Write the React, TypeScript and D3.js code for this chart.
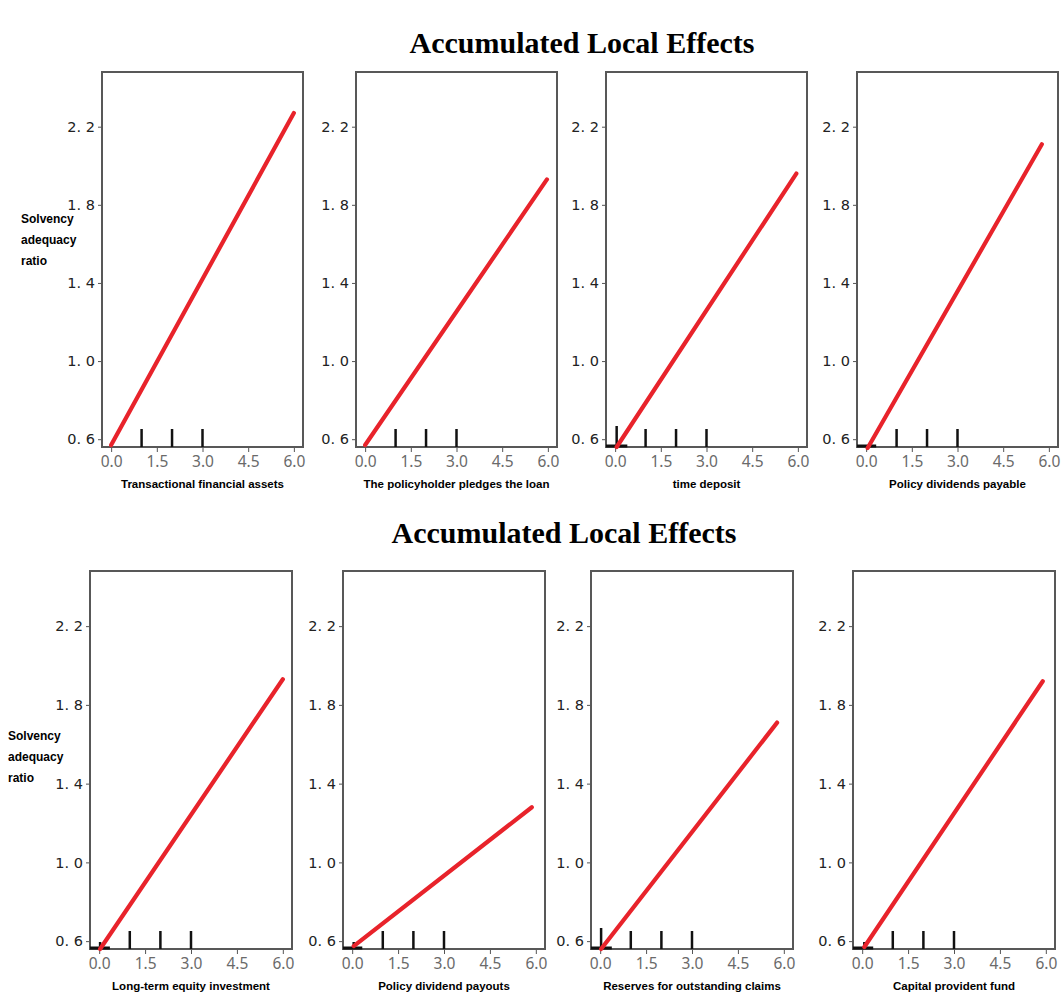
import React, { useEffect, useRef } from "react";
import * as d3 from "d3";

// feature names, in reading order (top row, then bottom row)
const features = [
  "Transactional financial assets",
  "The policyholder pledges the loan",
  "time deposit",
  "Policy dividends payable",
  "Long-term equity investment",
  "Policy dividend payouts",
  "Reserves for outstanding claims",
  "Capital provident fund",
];

// ALE line: start and end point of each feature
const startX = [0, 0, 0.05, 0.05, 0.03, 0.05, 0.03, 0.07];
const startY = [0.57, 0.57, 0.56, 0.555, 0.56, 0.575, 0.56, 0.57];
const endX = [6.0, 5.97, 5.95, 5.77, 6.0, 5.87, 5.78, 5.9];
const endY = [2.27, 1.93, 1.96, 2.11, 1.93, 1.28, 1.71, 1.92];

// rug marks (deciles) and the extra mark at zero
const rugValues = [1, 2, 3];
const zeroRug = ["none", "none", "tall", "none", "short", "short", "tall", "short"];
const baseSegEnd = [null, null, 0.4, 0.33, 0.35, 0.33, 0.38, 0.36];

const xTicks = [0, 1.5, 3, 4.5, 6];
const yTicks = [0.6, 1.0, 1.4, 1.8, 2.2];
const yLabelLines = ["Solvency", "adequacy", "ratio"];
const title = "Accumulated Local Effects";

function App() {
  const ref = useRef<SVGSVGElement>(null);

  useEffect(() => {
    const svg = d3.select(ref.current).html("");
    const W = 1063, H = 996;
    svg.attr("width", W).attr("height", H);

    const rows = [
      { lefts: [102, 356, 606, 857], top: 72, w: 201, h: 375, titleX: 582, titleY: 53, ylabX: 21, ylabY: 223 },
      { lefts: [90, 343, 591, 853], top: 571, w: 202, h: 378, titleX: 564, titleY: 543, ylabX: 8, ylabY: 740 },
    ];

    rows.forEach((row, r) => {
      svg.append("text")
        .attr("x", row.titleX).attr("y", row.titleY)
        .attr("text-anchor", "middle")
        .style("font-family", "'Liberation Serif', 'Times New Roman', serif")
        .style("font-weight", "bold")
        .style("font-size", "30px")
        .text(title);

      const yl = svg.append("text")
        .style("font-family", "'Liberation Sans', Arial, sans-serif")
        .style("font-weight", "bold")
        .style("font-size", "12px");
      yLabelLines.forEach((t, i) => {
        yl.append("tspan").attr("x", row.ylabX).attr("y", row.ylabY + i * 21).text(t);
      });

      row.lefts.forEach((left, c) => {
        const k = r * 4 + c;
        const x = d3.scaleLinear().domain([-0.3, 6.3]).range([0, row.w]);
        const y = d3.scaleLinear().domain([0.56, 2.48]).range([row.h, 0]);
        const g = svg.append("g").attr("transform", `translate(${left},${row.top})`);

        // y axis
        const ya = g.append("g").call(
          d3.axisLeft(y).tickValues(yTicks).tickSize(4).tickPadding(3)
            .tickFormat(d => (+d).toFixed(1).replace(".", ". "))
        );
        ya.select(".domain").remove();
        ya.selectAll("line").attr("stroke", "#555");
        ya.selectAll("text")
          .attr("fill", "#222")
          .style("font-family", "'DejaVu Sans', sans-serif")
          .style("font-size", "14.5px");

        // x axis
        const xa = g.append("g").attr("transform", `translate(0,${row.h})`).call(
          d3.axisBottom(x).tickValues(xTicks).tickSize(5).tickPadding(4)
            .tickFormat(d3.format(".1f"))
        );
        xa.select(".domain").remove();
        xa.selectAll("line").attr("stroke", "#555");
        xa.selectAll("text")
          .attr("fill", "#6a6a6a")
          .style("font-family", "'Noto Sans', sans-serif")
          .style("font-size", "15.5px");

        // frame
        g.append("rect")
          .attr("width", row.w).attr("height", row.h)
          .attr("fill", "none").attr("stroke", "#585858").attr("stroke-width", 2);

        // rug
        g.selectAll(".rug").data(rugValues).join("line")
          .attr("x1", d => x(d)).attr("x2", d => x(d))
          .attr("y1", row.h).attr("y2", row.h - 18)
          .attr("stroke", "#111").attr("stroke-width", 2.5);

        if (zeroRug[k] !== "none") {
          g.append("line")
            .attr("x1", x(startX[k])).attr("x2", x(startX[k]))
            .attr("y1", row.h).attr("y2", row.h - (zeroRug[k] === "tall" ? 21 : 7))
            .attr("stroke", "#111").attr("stroke-width", 2.5);
        }
        const seg = baseSegEnd[k];
        if (seg != null) {
          g.append("line")
            .attr("x1", 0).attr("x2", x(seg))
            .attr("y1", row.h - 1).attr("y2", row.h - 1)
            .attr("stroke", "#111").attr("stroke-width", 3);
        }

        // ALE line
        const pts: [number, number][] = [[startX[k], startY[k]], [endX[k], endY[k]]];
        g.append("path")
          .attr("d", d3.line().x(d => x(d[0])).y(d => y(d[1]))(pts))
          .attr("fill", "none").attr("stroke", "#e8232b")
          .attr("stroke-width", 4.2).attr("stroke-linecap", "round");

        // feature name
        g.append("text")
          .attr("x", row.w / 2).attr("y", row.h + 41)
          .attr("text-anchor", "middle")
          .style("font-family", "'Liberation Sans', Arial, sans-serif")
          .style("font-weight", "bold")
          .style("font-size", "11.5px")
          .text(features[k]);
      });
    });
  }, []);

  return (
    <div style={{ position: "absolute", left: 0, top: 0, background: "#fff" }}>
      <svg ref={ref} style={{ display: "block" }} />
    </div>
  );
}

export default App;
